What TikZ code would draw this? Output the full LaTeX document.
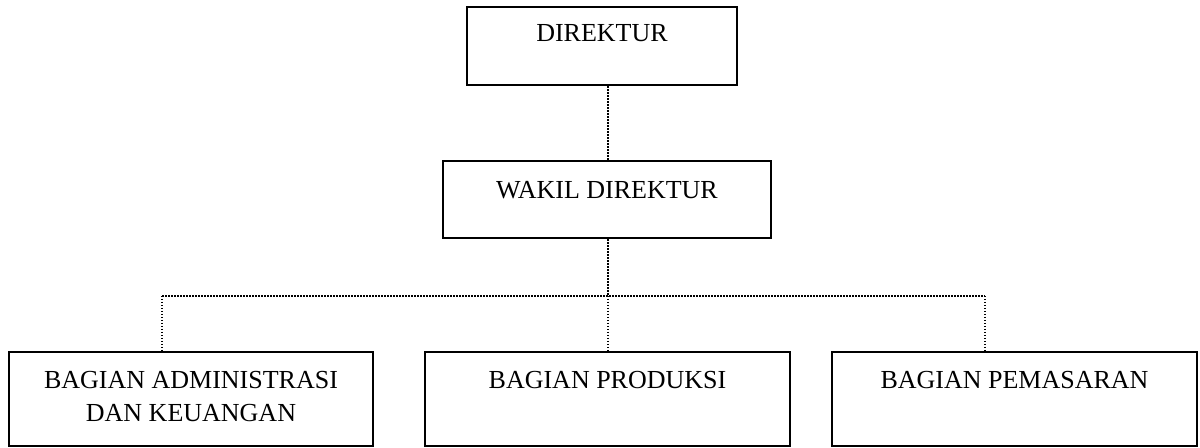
\documentclass[tikz,border=0pt]{standalone}
\usepackage{fontspec}
\setmainfont{Liberation Serif}
\begin{document}
\begin{tikzpicture}[x=0.5pt,y=-0.5pt,
  box/.style={draw=black,line width=1.2pt,rectangle,inner sep=0pt},
  lbl/.style={font=\fontsize{13}{16.5}\selectfont,align=center,inner sep=0pt,anchor=center},
  conn/.style={draw=black,line width=0.9pt,dash pattern=on 0.75pt off 0.75pt}]
\useasboundingbox (0,0) rectangle (1200,448);
% boxes
\node[box,minimum width=135pt,minimum height=39pt] (dir) at (602,46) {};
\node[box,minimum width=164pt,minimum height=38.5pt] (wdir) at (607,199.5) {};
\node[box,minimum width=182pt,minimum height=47pt] (adm) at (191,399) {};
\node[box,minimum width=182.5pt,minimum height=47pt] (prod) at (607.5,399) {};
\node[box,minimum width=182.5pt,minimum height=47pt] (pem) at (1014.5,399) {};
% texts
\node[lbl] (tdir) at (602,33) {DIREKTUR};
\node[lbl] (twdir) at (607,190) {WAKIL DIREKTUR};
\node[lbl] (tadm) at (191,396.5) {BAGIAN ADMINISTRASI\\DAN KEUANGAN};
\node[lbl] (tprod) at (607.5,380) {BAGIAN PRODUKSI};
\node[lbl] (tpem) at (1014.5,380) {BAGIAN PEMASARAN};
% connector coordinates
\coordinate (hc) at (608,296);
\coordinate (hl) at (162,296);
\coordinate (hr) at (985,296);
% connectors
\draw[conn] (dir.south -| hc) -- (wdir.north -| hc);
\draw[conn] (wdir.south -| hc) -- (hc);
\draw[conn] (hl) -- (hr);
\draw[conn] (hl) -- (adm.north -| hl);
\draw[conn] (hc) -- (prod.north -| hc);
\draw[conn] (hr) -- (pem.north -| hr);
\end{tikzpicture}
\end{document}
